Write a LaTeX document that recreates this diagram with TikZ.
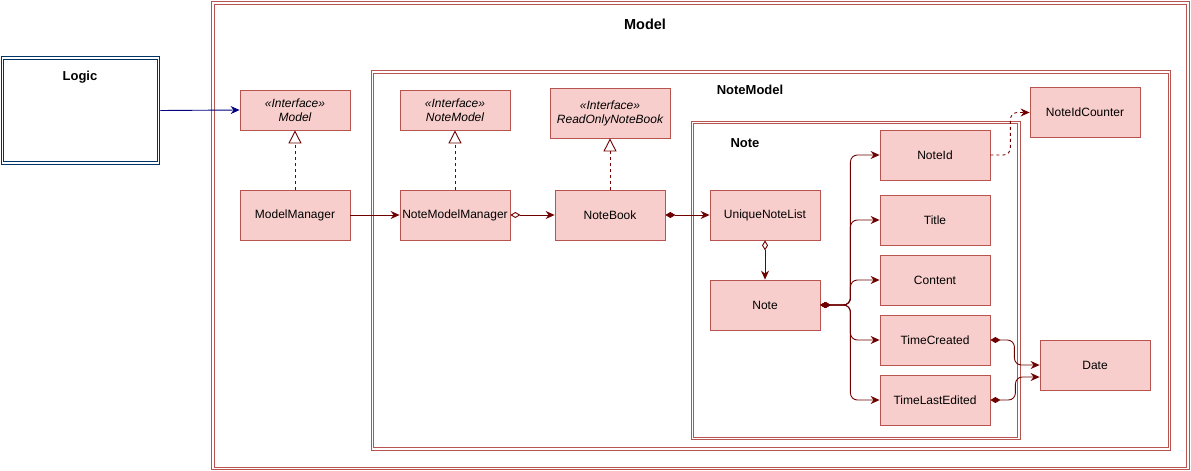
\documentclass[tikz,border=0pt]{standalone}
\usepackage{fontspec}
\setmainfont{Liberation Sans}
\usetikzlibrary{arrows.meta}
\definecolor{fr}{HTML}{B85450}
\definecolor{fl}{HTML}{F8CECC}
\definecolor{ed}{HTML}{6F0000}
\definecolor{lg}{HTML}{003366}
\definecolor{nv}{HTML}{000080}
\begin{document}
\begin{tikzpicture}[x=1pt,y=-1pt,
 cls/.style={draw=fr, fill=fl, line width=0.8pt, minimum width=110pt, minimum height=50pt, inner sep=0pt, font=\fontsize{12}{14}\selectfont, align=center},
 frm/.style={draw=fr, line width=0.9pt, inner sep=0pt},
 ttl/.style={font=\bfseries\fontsize{13}{15}\selectfont, inner sep=0pt},
 tip/.tip={Stealth[length=9pt,width=8pt,inset=3pt]},
 conn/.style={draw=ed, line width=0.9pt, -tip},
 real/.style={draw=ed, line width=0.9pt, dash pattern=on 3pt off 3pt, -{Triangle[open,length=13pt,width=13pt,fill=white]}},
 agg/.style={draw=ed, line width=0.9pt, {Diamond[open,length=10pt,width=6pt,fill=white]}-tip},
 comp/.style={draw=ed, line width=0.9pt, {Diamond[length=10pt,width=6pt]}-tip, rounded corners=7pt},
 dep/.style={draw=ed, line width=0.9pt, dash pattern=on 3pt off 3pt, -tip, rounded corners=7pt}]
\useasboundingbox (0,0) rectangle (1191,471);
% frames (double lines drawn as two rectangles)
\node[frm, minimum width=977.5pt, minimum height=468pt] (modelframe) at (700.25,235.5) {};
\node[frm, minimum width=972.5pt, minimum height=463pt] (modelframein) at (700.25,235.5) {};
\node[frm, minimum width=799.5pt, minimum height=379.7pt] (notemodelframe) at (770.85,260.35) {};
\node[frm, minimum width=794.5pt, minimum height=374.7pt] (notemodelframein) at (770.85,260.35) {};
\node[frm, minimum width=329pt, minimum height=318.6pt] (noteframe) at (855.7,280.5) {};
\node[frm, minimum width=324pt, minimum height=313.6pt] (noteframein) at (855.7,280.5) {};
\node[frm, draw=lg, minimum width=158.8pt, minimum height=107.6pt] (logic) at (80.4,110.5) {};
\node[frm, draw=lg, minimum width=153.8pt, minimum height=102.6pt] (logicin) at (80.4,110.5) {};
% titles
\node[ttl, font=\bfseries\fontsize{14.5}{16}\selectfont] (mtitle) at (645,24) {Model};
\node[ttl] (lgtitle) at (80,77) {Logic};
\node[ttl] (nmtitle) at (750,90) {NoteModel};
\node[ttl] (ntitle) at (745,143) {Note};
% classes
\node[cls, minimum height=40pt] (imodel) at (295,110) {\itshape «Interface»\\\itshape Model};
\node[cls] (mm) at (295,215) {ModelManager};
\node[cls, minimum height=40pt] (inotemodel) at (455,110) {\itshape «Interface»\\\itshape NoteModel};
\node[cls] (nmm) at (455,215) {NoteModelManager};
\node[cls, minimum width=120pt] (ronb) at (610,113) {\itshape «Interface»\\\itshape ReadOnlyNoteBook};
\node[cls] (nb) at (610,215) {NoteBook};
\node[cls] (unl) at (765,215) {UniqueNoteList};
\node[cls] (note) at (765,305) {Note};
\node[cls] (noteid) at (935,155) {NoteId};
\node[cls] (title) at (935,220) {Title};
\node[cls] (content) at (935,280) {Content};
\node[cls] (tc) at (935,340) {TimeCreated};
\node[cls] (tle) at (935,400) {TimeLastEdited};
\node[cls] (nic) at (1085,112.5) {NoteIdCounter};
\node[cls] (date) at (1095,365) {Date};
% connectors
\draw[draw=nv, line width=0.9pt, -{Stealth[length=9pt,width=8pt,inset=3pt]}] (logic.east) -- (imodel.west);
\draw[real] (mm.north) -- (imodel.south);
\draw[real] (nmm.north) -- (inotemodel.south);
\draw[real] (nb.north) -- (ronb.south);
\draw[conn] (mm.east) -- (nmm.west);
\draw[agg] (nmm.east) -- (nb.west);
\draw[comp] (nb.east) -- (unl.west);
\draw[agg] (unl.south) -- (note.north);
\draw[comp] (note.east) -- ++(30,0) |- (noteid.west);
\draw[comp] (note.east) -- ++(30,0) |- (title.west);
\draw[comp] (note.east) -- ++(30,0) |- (content.west);
\draw[comp] (note.east) -- ++(30,0) |- (tc.west);
\draw[comp] (note.east) -- ++(30,0) |- (tle.west);
\draw[dep] (noteid.east) -- ++(20,0) |- (nic.west);
\draw[comp] (tc.east) -- ++(24,0) |- (date.west);
\draw[comp] (tle.east) -- ++(25,0) |- ([yshift=-12pt]date.west);
\end{tikzpicture}
\end{document}
